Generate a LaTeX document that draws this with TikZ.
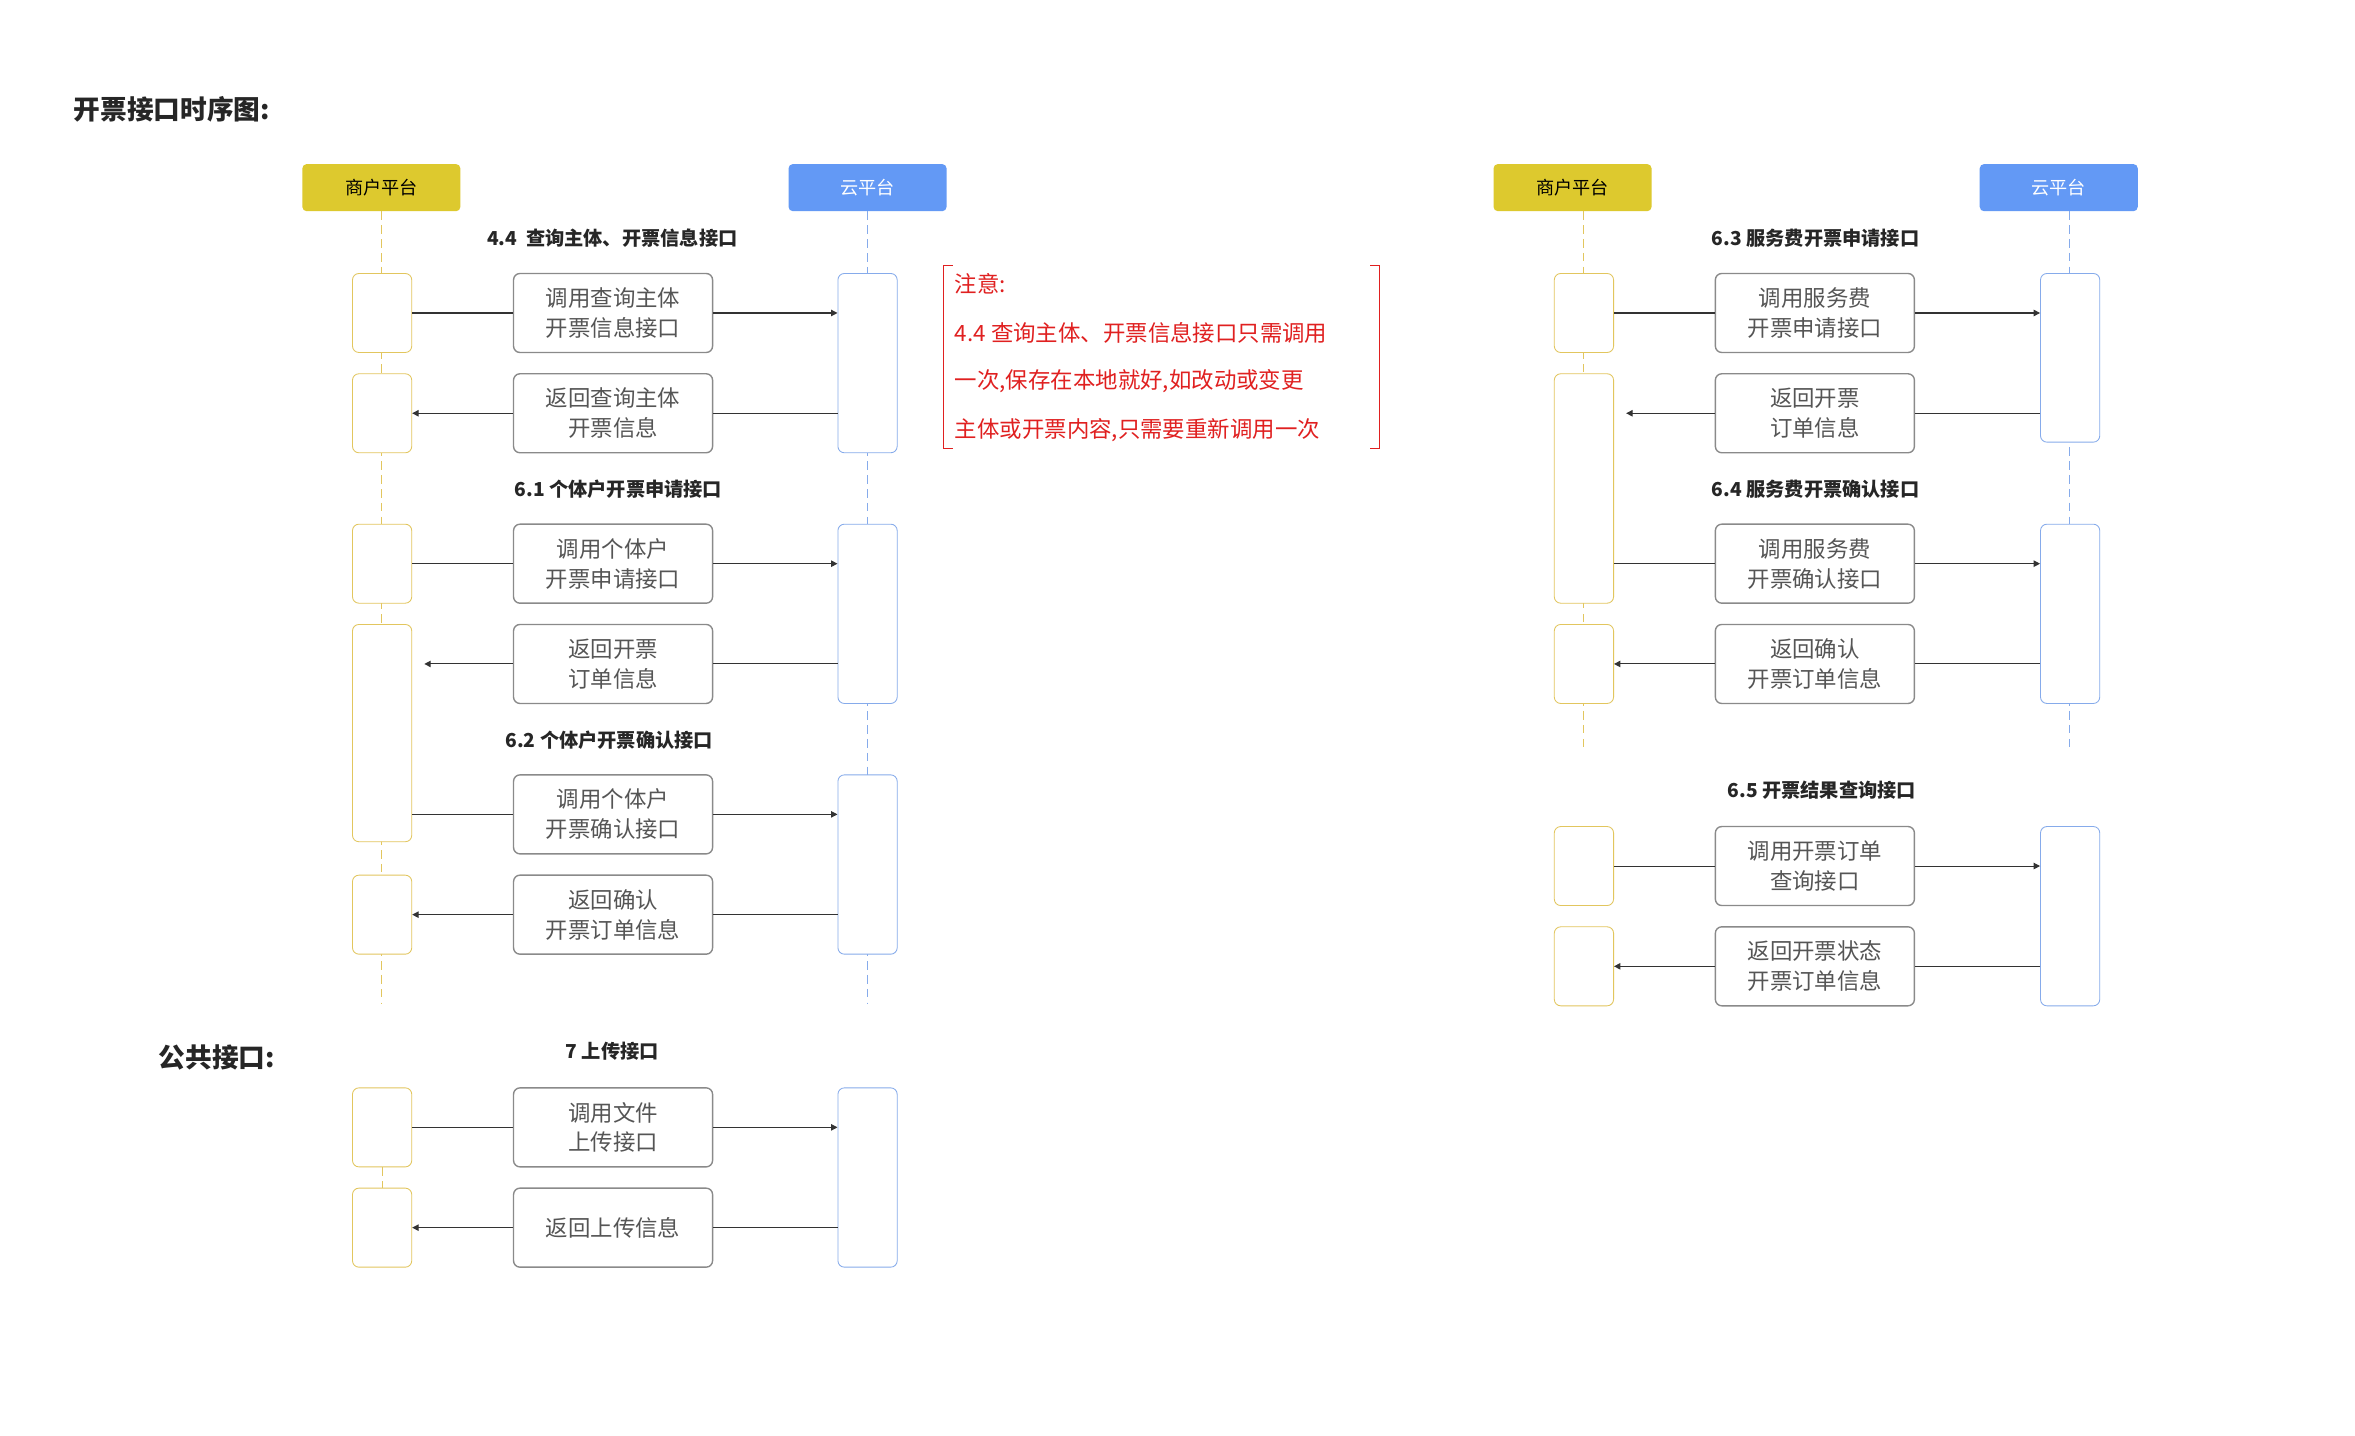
\documentclass[tikz,border=0pt]{standalone}
\usepackage{fontspec}
\setmainfont{Noto Sans CJK SC}
\usetikzlibrary{arrows.meta}
\definecolor{ylw}{HTML}{DDC92E}
\definecolor{blu}{HTML}{6399F5}
\definecolor{ylwl}{HTML}{E2C65E}
\definecolor{blul}{HTML}{86ABEB}
\definecolor{gry}{HTML}{8A8A8A}
\definecolor{txt}{HTML}{555555}
\definecolor{red1}{HTML}{E02020}
\tikzset{
 hdr/.style={rounded corners=4pt,minimum width=104*0.05cm,minimum height=31*0.05cm,inner sep=0pt,font=\fontsize{17}{20}\selectfont},
 hy/.style={hdr,fill=ylw,text=black},
 hb/.style={hdr,fill=blu,text=white},
 act/.style={draw,line width=0.8pt,rounded corners=6pt,fill=white,minimum width=39*0.05cm,inner sep=0pt},
 ay/.style={act,draw=ylwl},
 ab/.style={act,draw=blul},
 msg/.style={draw=gry,line width=1.3pt,rounded corners=6pt,fill=white,minimum width=131*0.05cm,minimum height=52*0.05cm,inner sep=0pt,align=center,text=txt,font=\fontsize{21}{28}\selectfont},
 lly/.style={ylwl,dashed,line width=0.8pt,dash pattern=on 8pt off 5pt},
 llb/.style={blul,dashed,line width=0.8pt,dash pattern=on 8pt off 5pt},
 ln/.style={line width=1pt,black!80},
 arr/.style={ln,-{Triangle[length=6pt,width=6pt]}},
 sec/.style={font=\bfseries\fontsize{18}{22}\selectfont,text=black!85},
 ttl/.style={font=\bfseries\fontsize{25}{30}\selectfont,anchor=west,text=black!85},
 note/.style={anchor=west,text=red1,font=\fontsize{21}{26}\selectfont}
}
\newcommand{\actbox}[5]{\node[#1,minimum height=(#4-#3)*0.05cm] (#5) at (#2,{(#3+#4)/2}) {};}
\begin{document}
\begin{tikzpicture}[x=0.05cm,y=-0.05cm]
\fill[white] (0,0) rectangle (1550,945);
\useasboundingbox (0,0) rectangle (1550,945);
\node[ttl] (t1) at (46,72) {开票接口时序图:};
\node[ttl] (t2) at (102,696) {公共接口:};
% ---------- left diagram
\node[hy] (H1) at (251,123.5) {商户平台};
\node[hb] (C1) at (571,123.5) {云平台};
\coordinate (L1e) at (251,660); \coordinate (R1e) at (571,660);
\draw[lly] (H1.south) -- (L1e);
\draw[llb] (C1.south) -- (R1e);
\actbox{ay}{251.5}{180}{232}{la1}
\actbox{ay}{251.5}{246}{298}{la2}
\actbox{ay}{251.5}{345}{397}{la3}
\actbox{ay}{251.5}{411}{554}{la4}
\actbox{ay}{251.5}{576}{628}{la5}
\actbox{ab}{571}{180}{298}{ra1}
\actbox{ab}{571}{345}{463}{ra2}
\actbox{ab}{571}{510}{628}{ra3}
\node[sec] (s1) at (403,157) {4.4\ \ 查询主体、开票信息接口};
\node[sec] (s2) at (407,322) {6.1 个体户开票申请接口};
\node[sec] (s3) at (401,487) {6.2 个体户开票确认接口};
\node[msg] (m1) at (403.5,206) {调用查询主体\\开票信息接口};
\node[msg] (m2) at (403.5,272) {返回查询主体\\开票信息};
\node[msg] (m3) at (403.5,371) {调用个体户\\开票申请接口};
\node[msg] (m4) at (403.5,437) {返回开票\\订单信息};
\node[msg] (m5) at (403.5,536) {调用个体户\\开票确认接口};
\node[msg] (m6) at (403.5,602) {返回确认\\开票订单信息};
\draw[ln] (la1.east|-m1) -- (m1.west); \draw[arr] (m1.east) -- (ra1.west|-m1);
\draw[ln] (ra1.west|-m2) -- (m2.east); \draw[arr] (m2.west) -- (la2.east|-m2);
\draw[ln] (la3.east|-m3) -- (m3.west); \draw[arr] (m3.east) -- (ra2.west|-m3);
\draw[ln] (ra2.west|-m4) -- (m4.east); \draw[arr] (m4.west) -- ([xshift=8*0.05cm]la4.east|-m4);
\draw[ln] (la4.east|-m5) -- (m5.west); \draw[arr] (m5.east) -- (ra3.west|-m5);
\draw[ln] (ra3.west|-m6) -- (m6.east); \draw[arr] (m6.west) -- (la5.east|-m6);
% ---------- public
\node[sec] (s7) at (403,692) {7 上传接口};
\actbox{ay}{251.5}{716}{768}{la6}
\actbox{ay}{251.5}{782}{834}{la7}
\actbox{ab}{571}{716}{834}{ra4}
\draw[lly] (la6.south) -- (la7.north);
\node[msg] (m7) at (403.5,742) {调用文件\\上传接口};
\node[msg] (m8) at (403.5,808) {返回上传信息};
\draw[ln] (la6.east|-m7) -- (m7.west); \draw[arr] (m7.east) -- (ra4.west|-m7);
\draw[ln] (ra4.west|-m8) -- (m8.east); \draw[arr] (m8.west) -- (la7.east|-m8);
% ---------- note
\coordinate (n1) at (621,175); \coordinate (n2) at (621,295);
\coordinate (n3) at (908,175); \coordinate (n4) at (908,295);
\draw[red1,line width=0.9pt] ([xshift=6*0.05cm]n1) -- (n1) -- (n2) -- ([xshift=6*0.05cm]n2);
\draw[red1,line width=0.9pt] ([xshift=-6*0.05cm]n3) -- (n3) -- (n4) -- ([xshift=-6*0.05cm]n4);
\node[note] (nt1) at (626,187) {注意:};
\node[note] (nt2) at (626,219) {4.4 查询主体、开票信息接口只需调用};
\node[note] (nt3) at (626,251) {一次,保存在本地就好,如改动或变更};
\node[note] (nt4) at (626,283) {主体或开票内容,只需要重新调用一次};
% ---------- right diagram
\node[hy] (H2) at (1035,123.5) {商户平台};
\node[hb] (C2) at (1355,123.5) {云平台};
\coordinate (L2e) at (1042,493); \coordinate (R2e) at (1362,493);
\draw[lly] (1042,139) -- (L2e);
\draw[llb] (1362,139) -- (R2e);
\actbox{ay}{1042.5}{180}{232}{lb1}
\actbox{ay}{1042.5}{246}{397}{lb2}
\actbox{ay}{1042.5}{411}{463}{lb3}
\actbox{ab}{1362.5}{180}{291}{rb1}
\actbox{ab}{1362.5}{345}{463}{rb2}
\node[sec] (s4) at (1195,157) {6.3 服务费开票申请接口};
\node[sec] (s5) at (1195,322) {6.4 服务费开票确认接口};
\node[sec] (s6) at (1199,520) {6.5 开票结果查询接口};
\node[msg] (q1) at (1194.5,206) {调用服务费\\开票申请接口};
\node[msg] (q2) at (1194.5,272) {返回开票\\订单信息};
\node[msg] (q3) at (1194.5,371) {调用服务费\\开票确认接口};
\node[msg] (q4) at (1194.5,437) {返回确认\\开票订单信息};
\draw[ln] (lb1.east|-q1) -- (q1.west); \draw[arr] (q1.east) -- (rb1.west|-q1);
\draw[ln] (rb1.west|-q2) -- (q2.east); \draw[arr] (q2.west) -- ([xshift=8*0.05cm]lb2.east|-q2);
\draw[ln] (lb2.east|-q3) -- (q3.west); \draw[arr] (q3.east) -- (rb2.west|-q3);
\draw[ln] (rb2.west|-q4) -- (q4.east); \draw[arr] (q4.west) -- (lb3.east|-q4);
\actbox{ay}{1042.5}{544}{596}{lb4}
\actbox{ay}{1042.5}{610}{662}{lb5}
\actbox{ab}{1362.5}{544}{662}{rb3}
\node[msg] (q5) at (1194.5,570) {调用开票订单\\查询接口};
\node[msg] (q6) at (1194.5,636) {返回开票状态\\开票订单信息};
\draw[ln] (lb4.east|-q5) -- (q5.west); \draw[arr] (q5.east) -- (rb3.west|-q5);
\draw[ln] (rb3.west|-q6) -- (q6.east); \draw[arr] (q6.west) -- (lb5.east|-q6);
\end{tikzpicture}
\end{document}
